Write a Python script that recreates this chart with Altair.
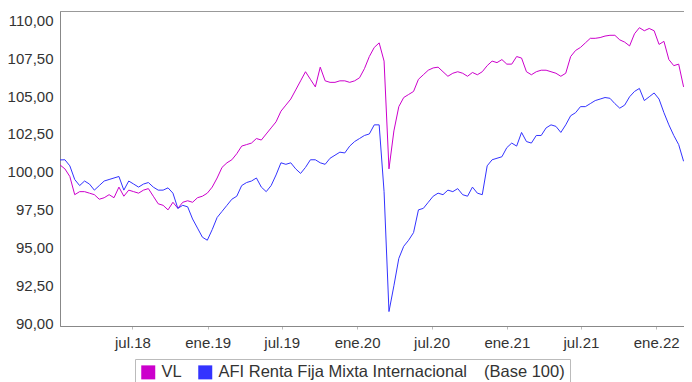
import altair as alt
import pandas as pd

# Sampling dates (every 12 days, Jan 2018 -> Mar 2022)
dates = pd.date_range("2018-01-05", periods=128, freq="12D")

series_names = ["VL", "AFI Renta Fija Mixta Internacional"]

vl = [
    100.46, 100.2, 99.7, 98.5, 98.7, 98.7, 98.6, 98.5, 98.2, 98.3,
    98.5, 98.3, 99.0, 98.4, 98.8, 98.7, 98.6, 98.8, 98.9, 98.4,
    97.9, 97.8, 97.5, 98.0, 97.6, 98.0, 98.1, 98.0, 98.3, 98.4,
    98.6, 99.0, 99.6, 100.3, 100.6, 100.8, 101.2, 101.7, 101.8, 101.9,
    102.2, 102.1, 102.5, 102.9, 103.3, 104.0, 104.4, 104.8, 105.4, 106.0,
    106.6, 106.1, 105.6, 106.9, 106.0, 105.9, 105.9, 106.0, 106.0, 105.9,
    106.0, 106.2, 106.8, 107.6, 108.2, 108.5, 107.3, 100.2, 102.7, 104.3,
    104.9, 105.1, 105.3, 106.1, 106.4, 106.7, 106.85, 106.9, 106.6, 106.3,
    106.5, 106.6, 106.5, 106.3, 106.55, 106.4, 106.6, 107.0, 107.3, 107.2,
    107.4, 107.1, 107.1, 107.6, 107.5, 106.6, 106.4, 106.6, 106.7, 106.7,
    106.6, 106.5, 106.3, 106.5, 107.6, 108.0, 108.2, 108.5, 108.8, 108.8,
    108.85, 108.95, 109.0, 109.0, 108.7, 108.55, 108.3, 109.1, 109.5, 109.3,
    109.45, 109.3, 108.4, 108.6, 107.4, 107.0, 107.1, 105.6,
]

afi = [
    100.79, 100.8, 100.4, 99.5, 99.1, 99.4, 99.2, 98.8, 99.1, 99.4,
    99.5, 99.6, 99.7, 98.8, 99.4, 99.2, 99.0, 99.2, 99.3, 99.0,
    98.8, 98.8, 98.95, 98.6, 97.6, 97.8, 97.7, 96.9, 96.3, 95.7,
    95.5, 96.2, 97.0, 97.4, 97.8, 98.2, 98.4, 99.1, 99.3, 99.4,
    99.6, 99.0, 98.7, 99.1, 99.8, 100.6, 100.5, 100.6, 100.2, 99.9,
    100.3, 100.8, 100.8, 100.6, 100.5, 100.9, 101.1, 101.3, 101.25, 101.7,
    102.0, 102.2, 102.4, 102.5, 103.1, 103.1, 98.7, 90.8, 92.5, 94.3,
    95.1, 95.5, 96.0, 97.5, 97.6, 98.0, 98.4, 98.6, 98.5, 98.8,
    98.7, 98.9, 98.5, 98.4, 99.0, 98.6, 98.5, 100.4, 100.8, 100.9,
    101.0, 101.6, 101.9, 101.7, 102.6, 102.0, 101.9, 102.4, 102.4, 102.9,
    103.1, 103.0, 102.6, 103.1, 103.7, 103.9, 104.3, 104.3, 104.5, 104.7,
    104.8, 104.9, 104.85, 104.5, 104.2, 104.4, 104.95, 105.3, 105.5, 104.7,
    104.95, 105.2, 104.8, 103.9, 103.1, 102.4, 101.8, 100.7,
]

y_ticks = [90, 92.5, 95, 97.5, 100, 102.5, 105, 107.5, 110]
x_ticks = ["2018-07-01", "2019-01-01", "2019-07-01", "2020-01-01",
           "2020-07-01", "2021-01-01", "2021-07-01", "2022-01-01"]
colors = ["#CC00CC", "#3333FF"]

df = pd.concat([
    pd.DataFrame({"fecha": dates, "valor": vl, "serie": series_names[0]}),
    pd.DataFrame({"fecha": dates, "valor": afi, "serie": series_names[1]}),
])

FONT = "Liberation Sans"

x_tick_vals = [alt.DateTime(year=int(d[:4]), month=int(d[5:7]), date=1) for d in x_ticks]

x_enc = alt.X(
    "fecha:T",
    scale=alt.Scale(domain=[alt.DateTime(year=2018, month=1, date=5),
                            alt.DateTime(year=2022, month=3, date=10)]),
    axis=alt.Axis(
        values=x_tick_vals,
        labelExpr="(month(datum.value) == 0 ? 'ene.' : 'jul.') + timeFormat(datum.value, '%y')",
        title=None, grid=False, tickSize=3, tickColor="#bbbbbb",
        domainColor="#888888", labelFont=FONT, labelFontSize=15,
        labelColor="#333333", labelPadding=6, labelFlush=False,
    ),
)
y_enc = alt.Y(
    "valor:Q",
    scale=alt.Scale(domain=[89.85, 110.6], nice=False, zero=False),
    axis=alt.Axis(
        values=y_ticks,
        labelExpr="replace(format(datum.value, '.2f'), '.', ',')",
        title=None, grid=False, tickSize=0, domainColor="#888888",
        labelFont=FONT, labelFontSize=15, labelColor="#333333",
        labelPadding=7,
    ),
)
color_scale = alt.Scale(domain=series_names, range=colors)

legend_layer = alt.Chart(df).mark_square(filled=True, opacity=0, size=1).encode(
    x=x_enc,
    y=y_enc,
    color=alt.Color(
        "serie:N",
        scale=color_scale,
        sort=series_names,
        legend=alt.Legend(
            title="(Base 100)", titleOrient="right", titleFont=FONT,
            titleFontSize=16.5, titleFontWeight="normal", titleColor="#333333",
            titlePadding=17, orient="none", legendX=75, legendY=348,
            direction="horizontal", symbolType="square", symbolSize=196,
            symbolStrokeWidth=0, symbolOpacity=1, labelFont=FONT,
            labelFontSize=16.5, labelColor="#333333", labelOffset=5,
            columnPadding=15, strokeColor="#bbbbbb", padding=5, labelLimit=400,
        ),
    ),
)

line_layer = alt.Chart(df).mark_line(strokeWidth=1).encode(
    x=x_enc,
    y=y_enc,
    color=alt.Color("serie:N", scale=color_scale, sort=series_names),
)

chart = alt.layer(legend_layer, line_layer).properties(
    width=624, height=315,
    autosize=alt.AutoSizeParams(type="none"),
    padding={"left": 52, "top": 3, "right": 0, "bottom": 70},
).configure_view(
    stroke="#999999", strokeWidth=1,
)

chart.save("out.html", embed_options={"renderer": "svg", "actions": False})
